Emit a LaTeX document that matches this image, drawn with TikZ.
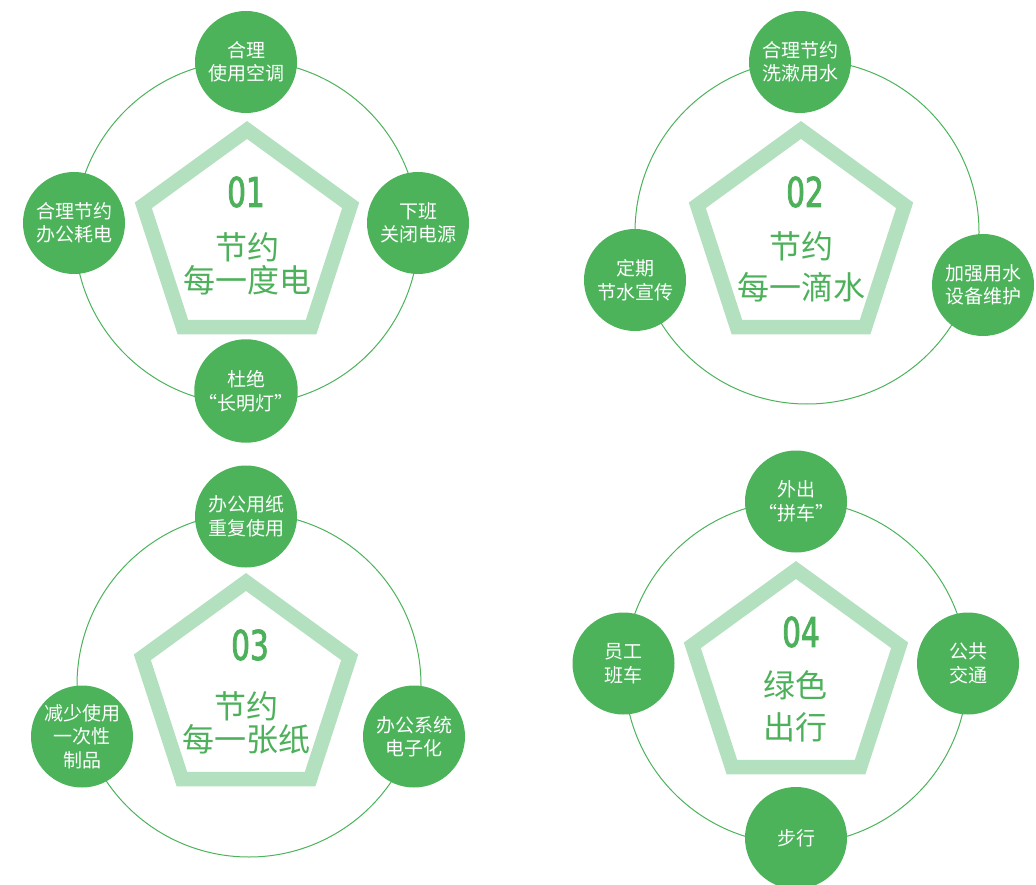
\documentclass[tikz,border=0pt]{standalone}
\usepackage{fontspec}
\newfontfamily\cjk{Noto Sans CJK SC}
\newfontfamily\numfont{DejaVu Sans}[FakeStretch=0.72, FakeBold=2]
\usetikzlibrary{shapes.geometric}
\definecolor{leafgreen}{HTML}{4CB35B}
\definecolor{palegreen}{HTML}{B3E0BE}
\definecolor{titlegreen}{HTML}{4DB05A}

\tikzset{
  ring/.style={draw=leafgreen, line width=1pt},
  penta/.style={regular polygon, regular polygon sides=5, draw=palegreen,
    line width=14.5pt, minimum size=218pt, inner sep=0pt},
  topic/.style={circle, fill=leafgreen, minimum size=102pt, inner sep=0pt,
    text=white, align=center, font=\cjk\fontsize{19}{23.5}\selectfont},
  num/.style={text=titlegreen, inner sep=0pt,
    font=\numfont\fontsize{41}{41}\selectfont},
  headline/.style={text=titlegreen, inner sep=0pt,
    font=\cjk\fontsize{32}{34}\selectfont},
}

\begin{document}
\begin{tikzpicture}[x=1pt, y=-1pt]
  \useasboundingbox (0,0) rectangle (1036,885);

  % rings
  \coordinate (r1) at (246.7,232.5);
  \coordinate (r2) at (807,232);
  \coordinate (r3) at (249,685);
  \coordinate (r4) at (796,672.5);
  \draw[ring] (r1) circle[radius=172];
  \draw[ring] (r2) circle[radius=172];
  \draw[ring] (r3) circle[radius=172];
  \draw[ring] (r4) circle[radius=171.5];

  % pentagons
  \node[penta] (p1) at (247,239) {};
  \node[penta] (p2) at (801,239) {};
  \node[penta] (p3) at (246,691) {};
  \node[penta] (p4) at (796,679) {};

  % 01
  \node[num] (n1) at (246,192) {01};
  \node[headline] (t1a) at (247,247) {节约};
  \node[headline] (t1b) at (247,280) {每一度电};
  \node[topic] (a1) at (246,62) {合理\\使用空调};
  \node[topic] (a2) at (74,223) {合理节约\\办公耗电};
  \node[topic] (a3) at (418,223) {下班\\关闭电源};
  \node[topic] (a4) at (246,391) {杜绝\\“长明灯”};

  % 02
  \node[num] (n2) at (805,192) {02};
  \node[headline] (t2a) at (801,246) {节约};
  \node[headline] (t2b) at (801,287.5) {每一滴水};
  \node[topic] (b1) at (800,62) {合理节约\\洗漱用水};
  \node[topic] (b2) at (635,280) {定期\\节水宣传};
  \node[topic] (b3) at (983,285) {加强用水\\设备维护};

  % 03
  \node[num] (n3) at (250,645) {03};
  \node[headline] (t3a) at (246,706.5) {节约};
  \node[headline] (t3b) at (246,739) {每一张纸};
  \node[topic] (c1) at (246,516.5) {办公用纸\\重复使用};
  \node[topic] (c2) at (82,736.5) {减少使用\\一次性\\制品};
  \node[topic] (c3) at (414,736.5) {办公系统\\电子化};

  % 04
  \node[num] (n4) at (801,632) {04};
  \node[headline] (t4a) at (795,685) {绿色};
  \node[headline] (t4b) at (795,727.5) {出行};
  \node[topic] (d1) at (796,501.5) {外出\\“拼车”};
  \node[topic] (d2) at (623.5,663.5) {员工\\班车};
  \node[topic] (d3) at (968,663.5) {公共\\交通};
  \node[topic] (d4) at (796,838) {步行};
\end{tikzpicture}
\end{document}
